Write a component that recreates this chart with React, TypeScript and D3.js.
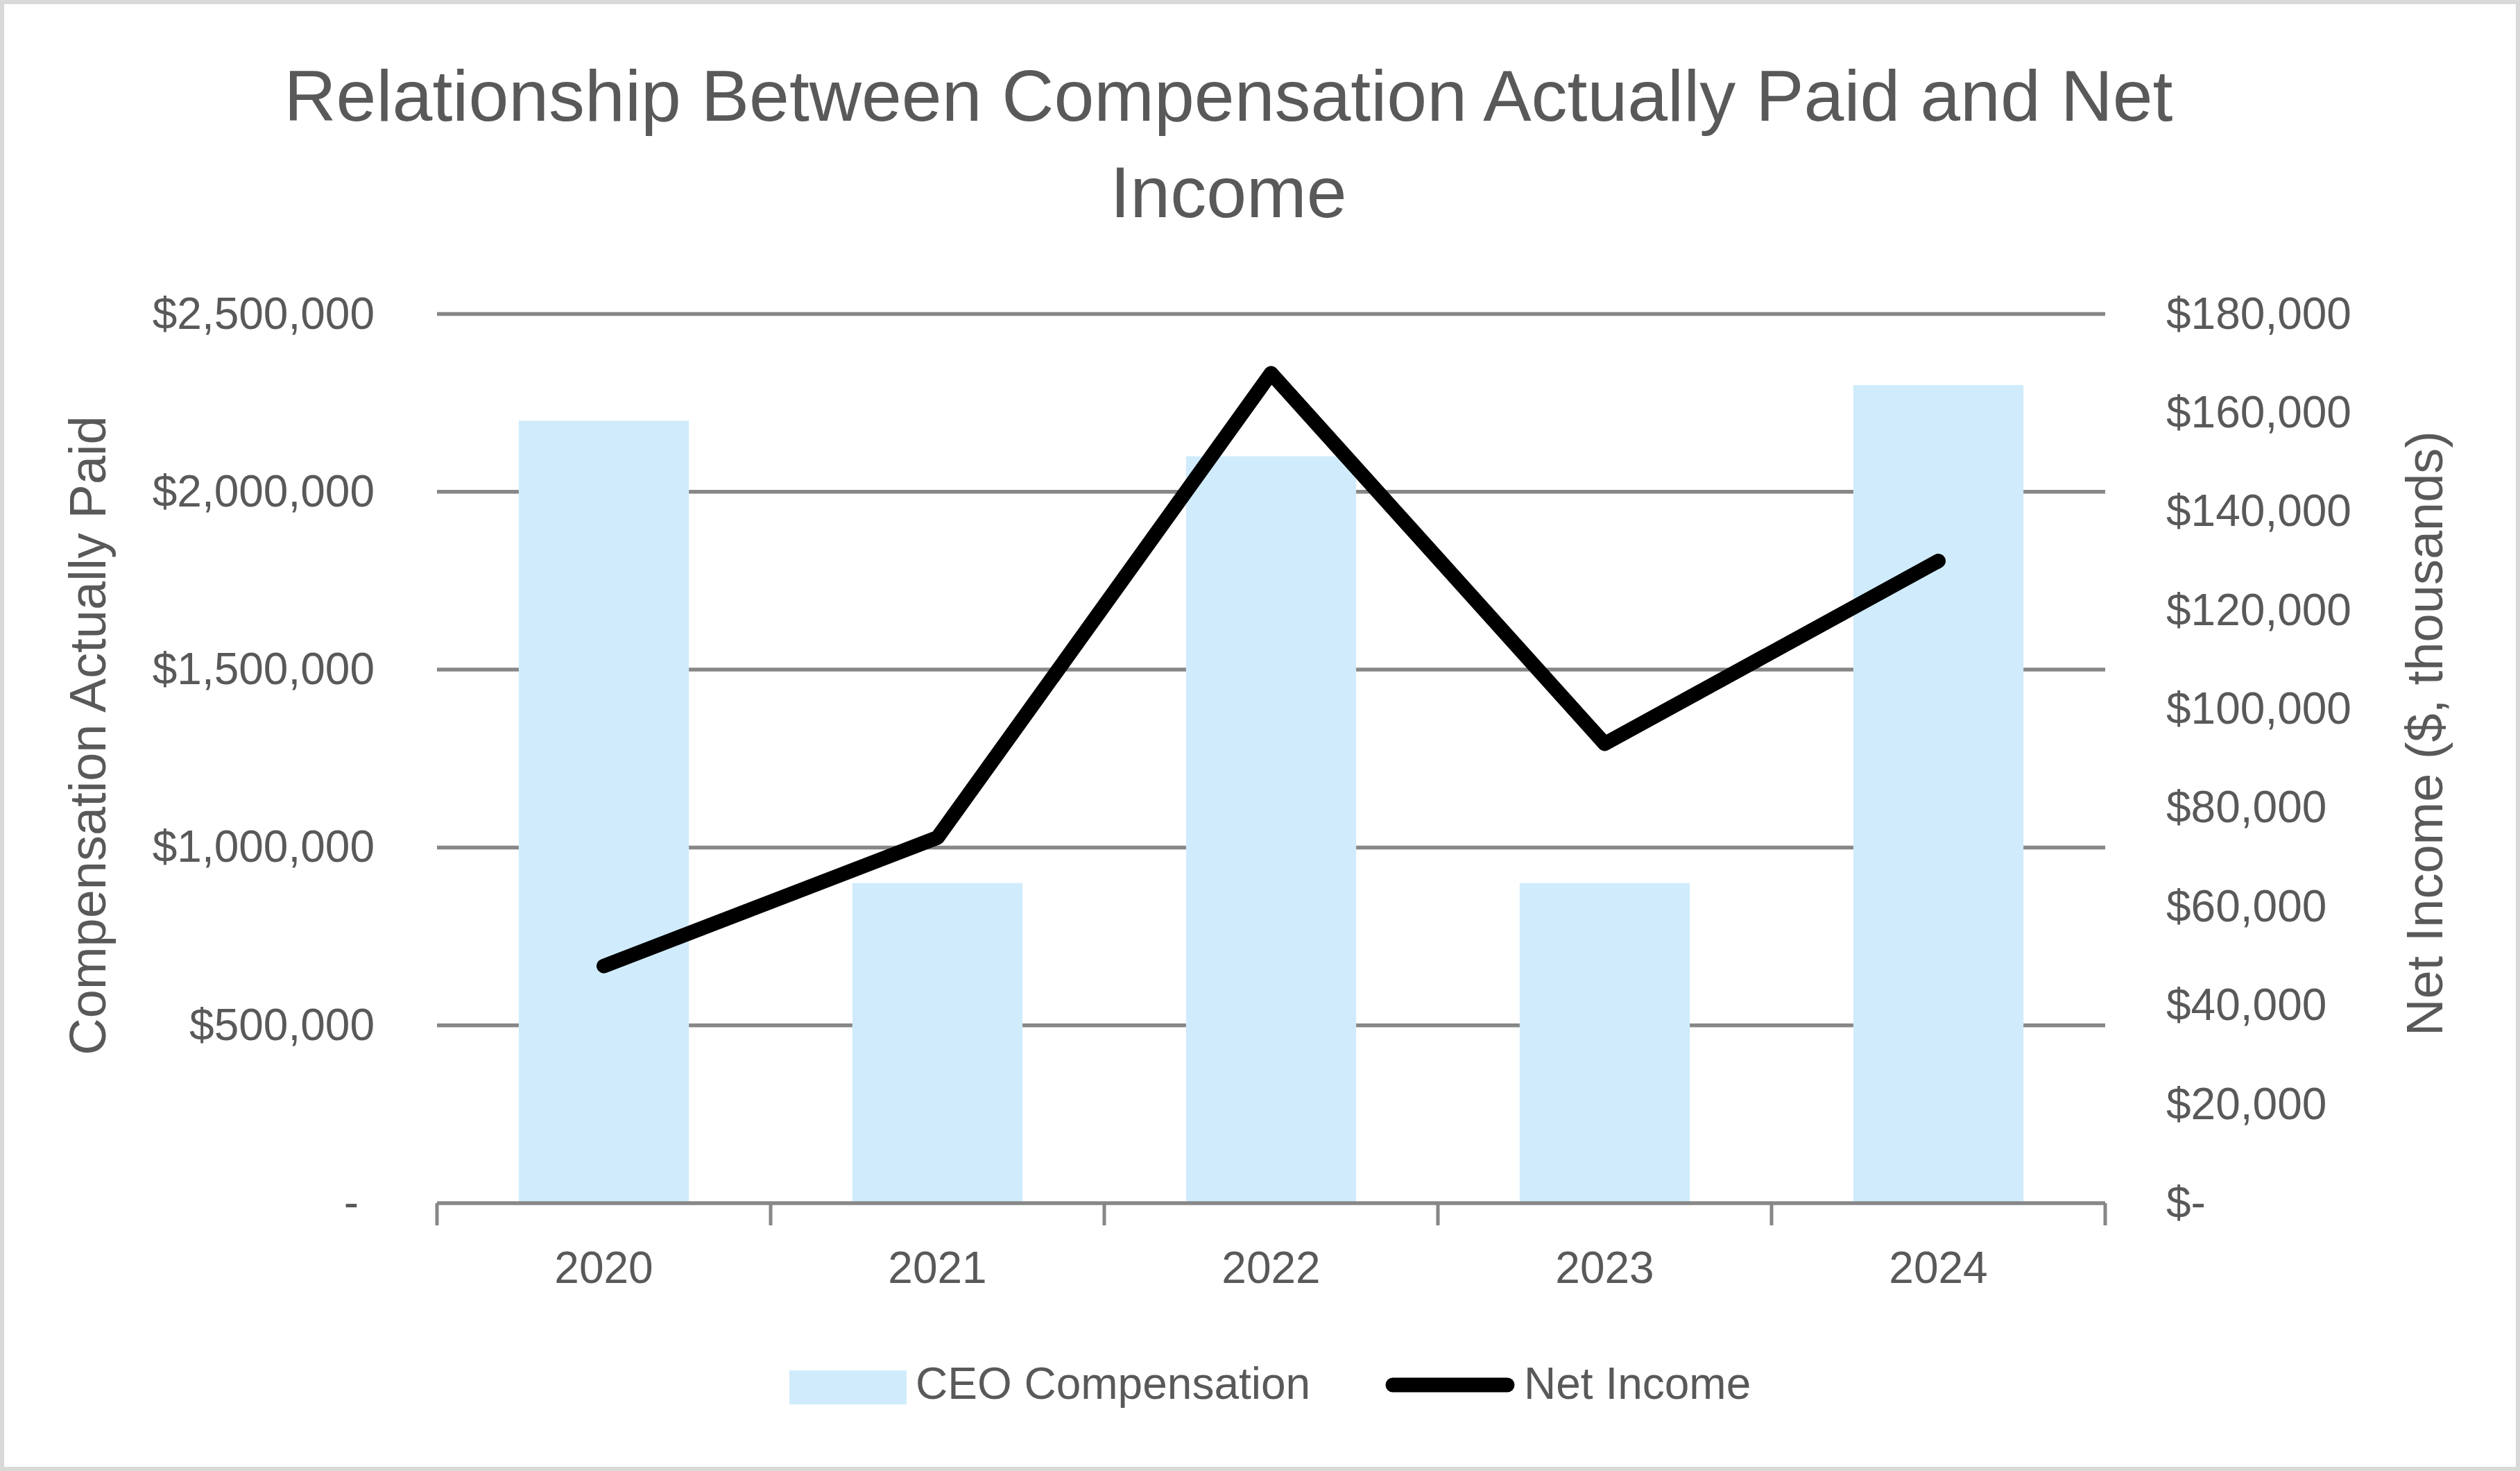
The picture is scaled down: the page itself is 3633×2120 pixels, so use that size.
import { useEffect, useRef } from 'react'
import * as d3 from 'd3'

const years = ['2020', '2021', '2022', '2023', '2024']
const ceoCompensation = [2200000, 900000, 2100000, 900000, 2300000]
const netIncome = [48000, 74000, 168000, 93000, 130000]

const leftTicks = [0, 500000, 1000000, 1500000, 2000000, 2500000]
const rightTicks = [0, 20000, 40000, 60000, 80000, 100000, 120000, 140000, 160000, 180000]

const titleLines = ['Relationship Between Compensation Actually Paid and Net', 'Income']

const W = 3633
const H = 2120
const FONT = '"Liberation Sans", Arial, sans-serif'
const TEXT = '#595959'
const GRID = '#878787'
const BAR = '#D0ECFC'

export default function App() {
  const svgRef = useRef<SVGSVGElement>(null)

  useEffect(() => {
    if (!svgRef.current) return
    document.body.style.margin = '0'

    const svg = d3.select(svgRef.current)
    svg.selectAll('*').remove()

    const plot = { left: 630, right: 3035, top: 452.5, bottom: 1734 }

    const x = d3.scaleBand<string>()
      .domain(years)
      .range([plot.left, plot.right])
      .paddingInner(0.49)
      .paddingOuter(0.245)

    const yLeft = d3.scaleLinear().domain([0, 2500000]).range([plot.bottom, plot.top])
    const yRight = d3.scaleLinear().domain([0, 180000]).range([plot.bottom, plot.top])

    // background + outer border
    svg.append('rect')
      .attr('x', 0).attr('y', 0)
      .attr('width', W).attr('height', H)
      .attr('fill', '#fff')
      .attr('stroke', '#D9D9D9')
      .attr('stroke-width', 12)

    // title
    const title = svg.append('text')
      .attr('text-anchor', 'middle')
      .style('font-family', FONT)
      .style('font-size', '104px')
      .attr('fill', TEXT)
    titleLines.forEach((line, i) => {
      title.append('tspan')
        .attr('x', 1771)
        .attr('y', 174 + i * 139)
        .text(line)
    })

    // horizontal gridlines (left axis ticks)
    svg.append('g')
      .selectAll('line')
      .data(leftTicks.filter(d => d > 0))
      .enter().append('line')
      .attr('x1', plot.left).attr('x2', plot.right)
      .attr('y1', d => yLeft(d)).attr('y2', d => yLeft(d))
      .attr('stroke', GRID)
      .attr('stroke-width', 5.5)

    // bars
    svg.append('g')
      .selectAll('rect')
      .data(ceoCompensation)
      .enter().append('rect')
      .attr('x', (_, i) => x(years[i]) as number)
      .attr('y', d => yLeft(d))
      .attr('width', x.bandwidth())
      .attr('height', d => plot.bottom - yLeft(d))
      .attr('fill', BAR)

    // category axis with tick marks between categories
    const step = x.step()
    svg.append('line')
      .attr('x1', plot.left).attr('x2', plot.right)
      .attr('y1', plot.bottom).attr('y2', plot.bottom)
      .attr('stroke', GRID)
      .attr('stroke-width', 5.5)

    svg.append('g')
      .selectAll('line')
      .data(d3.range(years.length + 1))
      .enter().append('line')
      .attr('x1', i => plot.left + i * step)
      .attr('x2', i => plot.left + i * step)
      .attr('y1', plot.bottom)
      .attr('y2', plot.bottom + 32)
      .attr('stroke', GRID)
      .attr('stroke-width', 5)

    svg.append('g')
      .selectAll('text')
      .data(years)
      .enter().append('text')
      .attr('x', d => (x(d) as number) + x.bandwidth() / 2)
      .attr('y', 1849)
      .attr('text-anchor', 'middle')
      .style('font-family', FONT)
      .style('font-size', '64px')
      .attr('fill', TEXT)
      .text(d => d)

    // net income line
    const line = d3.line<number>()
      .x((_, i) => (x(years[i]) as number) + x.bandwidth() / 2)
      .y(d => yRight(d))

    svg.append('path')
      .datum(netIncome)
      .attr('fill', 'none')
      .attr('stroke', '#000')
      .attr('stroke-width', 21)
      .attr('stroke-linecap', 'round')
      .attr('stroke-linejoin', 'round')
      .attr('d', line)

    // left axis labels
    const fmtLeft = (d: number) => (d === 0 ? '-' : '$' + d3.format(',')(d))
    svg.append('g')
      .selectAll('text')
      .data(leftTicks)
      .enter().append('text')
      .attr('x', d => (d === 0 ? 517 : 540))
      .attr('y', d => yLeft(d) + 21)
      .attr('text-anchor', 'end')
      .style('font-family', FONT)
      .style('font-size', '64px')
      .attr('fill', TEXT)
      .text(fmtLeft)

    // right axis labels
    const fmtRight = (d: number) => (d === 0 ? '$-' : '$' + d3.format(',')(d))
    svg.append('g')
      .selectAll('text')
      .data(rightTicks)
      .enter().append('text')
      .attr('x', 3123)
      .attr('y', d => yRight(d) + 21)
      .attr('text-anchor', 'start')
      .style('font-family', FONT)
      .style('font-size', '64px')
      .attr('fill', TEXT)
      .text(fmtRight)

    // axis titles
    svg.append('text')
      .attr('transform', 'translate(152,1060) rotate(-90)')
      .attr('text-anchor', 'middle')
      .style('font-family', FONT)
      .style('font-size', '74px')
      .attr('fill', TEXT)
      .text('Compensation Actually Paid')

    svg.append('text')
      .attr('transform', 'translate(3521,1057) rotate(-90)')
      .attr('text-anchor', 'middle')
      .style('font-family', FONT)
      .style('font-size', '74px')
      .attr('fill', TEXT)
      .text('Net Income ($, thousands)')

    // legend
    const legend = svg.append('g')
    legend.append('rect')
      .attr('x', 1138).attr('y', 1975)
      .attr('width', 169).attr('height', 49)
      .attr('fill', BAR)
    legend.append('text')
      .attr('x', 1320).attr('y', 2016)
      .style('font-family', FONT)
      .style('font-size', '64px')
      .attr('fill', TEXT)
      .text('CEO Compensation')
    legend.append('line')
      .attr('x1', 2008).attr('x2', 2173)
      .attr('y1', 1996).attr('y2', 1996)
      .attr('stroke', '#000')
      .attr('stroke-width', 21)
      .attr('stroke-linecap', 'round')
    legend.append('text')
      .attr('x', 2197).attr('y', 2016)
      .style('font-family', FONT)
      .style('font-size', '64px')
      .attr('fill', TEXT)
      .text('Net Income')
  }, [])

  return (
    <svg
      ref={svgRef}
      width={W}
      height={H}
      style={{ display: 'block', position: 'absolute', left: 0, top: 0 }}
    />
  )
}
